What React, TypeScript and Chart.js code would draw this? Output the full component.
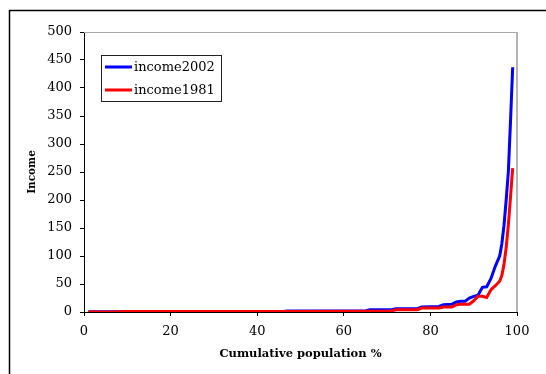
import React, { useEffect, useRef } from "react";
import { Chart, registerables } from "chart.js";

Chart.register(...registerables);

// Cumulative population percentile (x positions shared by both series)
const percentiles = [
  1, 8, 9, 46, 47, 65, 66, 71, 72, 77, 78, 82, 83, 85, 86, 87, 88, 89, 90, 91,
  92, 93, 94, 95, 96, 96.5, 97, 97.5, 98, 98.5, 99,
];

// Income by percentile, 2002
const income2002 = [
  0.3, 0.3, 1, 1, 2, 2, 4, 4, 6, 6, 9, 10, 13, 14, 18, 19, 19, 25, 28, 30,
  44, 45, 60, 82, 100, 122, 155, 200, 250, 340, 437,
];

// Income by percentile, 1981
const income1981 = [
  0.2, 0.2, 1, 1, 1, 1.5, 1.5, 2, 4, 4, 7, 7, 9, 9, 13, 14, 14, 14, 20, 28,
  28, 26, 40, 47, 55, 65, 85, 115, 155, 205, 257,
];

const seriesLabels = ["income2002", "income1981"];
const seriesColors = ["#0000ff", "#ff0000"];

const xTicksMax = 100;
const xStep = 20;
const yTicksMax = 500;
const yStep = 50;

const xTitle = "Cumulative population %";
const yTitle = "Income";

const SERIF = "'DejaVu Serif', 'Liberation Serif', serif";

const toPoints = (xs: number[], ys: number[]) =>
  xs.map((x, i) => ({ x, y: ys[i] }));

// Frame around the whole figure, light frame on top/right of the plot, boxed legend
const framePlugin = {
  id: "frameAndLegend",
  beforeDatasetsDraw(chart: any) {
    const { ctx, chartArea } = chart;
    ctx.save();
    ctx.strokeStyle = "#a8a8a8";
    ctx.lineWidth = 1;
    ctx.beginPath();
    ctx.moveTo(chartArea.left, chartArea.top + 0.5);
    ctx.lineTo(chartArea.right, chartArea.top + 0.5);
    ctx.stroke();
    ctx.strokeStyle = "#b4b4b4";
    ctx.lineWidth = 2;
    ctx.beginPath();
    ctx.moveTo(chartArea.right, chartArea.top);
    ctx.lineTo(chartArea.right, chartArea.bottom);
    ctx.stroke();
    ctx.restore();
  },
  afterDraw(chart: any) {
    const { ctx } = chart;
    ctx.save();
    // outer figure frame
    ctx.strokeStyle = "#000";
    ctx.lineWidth = 1.5;
    ctx.strokeRect(9.5, 10.5, 700, 500);

    // legend box
    const bx = 101.5;
    const by = 55.5;
    const bw = 120;
    const bh = 46;
    ctx.fillStyle = "#fff";
    ctx.fillRect(bx, by, bw, bh);
    ctx.strokeStyle = "#222";
    ctx.lineWidth = 1;
    ctx.strokeRect(bx, by, bw, bh);
    const rows = [67, 90];
    seriesLabels.forEach((label, i) => {
      ctx.strokeStyle = seriesColors[i];
      ctx.lineWidth = 3;
      ctx.beginPath();
      ctx.moveTo(105, rows[i]);
      ctx.lineTo(132, rows[i]);
      ctx.stroke();
      ctx.fillStyle = "#000";
      ctx.font = `13px ${SERIF}`;
      ctx.textAlign = "left";
      ctx.textBaseline = "middle";
      ctx.fillText(label, 134, rows[i] + 0.5);
    });
    ctx.restore();
  },
};

export default function App() {
  const canvasRef = useRef<HTMLCanvasElement | null>(null);

  useEffect(() => {
    if (!canvasRef.current) return;
    const chart = new Chart(canvasRef.current, {
      type: "line",
      data: {
        datasets: [
          {
            label: seriesLabels[0],
            data: toPoints(percentiles, income2002),
            borderColor: seriesColors[0],
            backgroundColor: seriesColors[0],
            borderWidth: 3,
            pointRadius: 0,
            tension: 0,
            order: 1,
          },
          {
            label: seriesLabels[1],
            data: toPoints(percentiles, income1981),
            borderColor: seriesColors[1],
            backgroundColor: seriesColors[1],
            borderWidth: 3,
            pointRadius: 0,
            tension: 0,
            order: 0,
          },
        ],
      },
      options: {
        responsive: false,
        animation: false,
        events: [],
        layout: { padding: { left: 0, top: 32, right: 29, bottom: 0 } },
        plugins: {
          legend: { display: false },
          tooltip: { enabled: false },
        },
        scales: {
          x: {
            type: "linear",
            min: 0,
            max: xTicksMax,
            ticks: {
              stepSize: xStep,
              color: "#000",
              padding: 8,
              maxRotation: 0,
              font: { family: SERIF, size: 13 },
            },
            grid: {
              drawOnChartArea: false,
              drawTicks: true,
              tickLength: 4,
              color: "#000",
            },
            border: { display: true, color: "#000", width: 1 },
            title: {
              display: true,
              text: xTitle,
              color: "#000",
              font: { family: SERIF, size: 11.5, weight: "bold" },
              padding: { top: 0, bottom: 13 },
            },
            afterFit(scale: any) {
              scale.height = 62;
            },
          },
          y: {
            type: "linear",
            min: 0,
            max: yTicksMax,
            ticks: {
              stepSize: yStep,
              color: "#000",
              padding: 8,
              font: { family: SERIF, size: 13 },
            },
            grid: {
              drawOnChartArea: false,
              drawTicks: true,
              tickLength: 4,
              color: "#000",
            },
            border: { display: true, color: "#000", width: 1 },
            title: {
              display: true,
              text: yTitle,
              color: "#000",
              font: { family: SERIF, size: 10.5, weight: "bold" },
              padding: { top: 25.7, bottom: 0 },
            },
            afterFit(scale: any) {
              scale.width = 84;
            },
          },
        },
      },
      plugins: [framePlugin],
    });
    return () => chart.destroy();
  }, []);

  return (
    <div style={{ position: "absolute", left: 0, top: 0, width: 546, height: 374, background: "#fff" }}>
      <canvas ref={canvasRef} width={546} height={374} style={{ display: "block" }} />
    </div>
  );
}
